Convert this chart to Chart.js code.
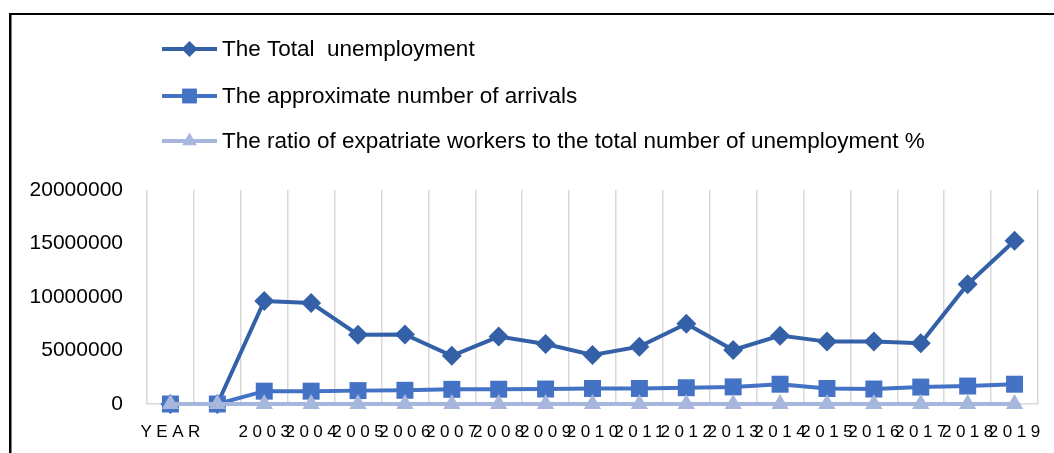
<!DOCTYPE html>
<html>
<head>
<meta charset="utf-8">
<script src="https://cdn.jsdelivr.net/npm/chart.js@4"></script>
<style>
  html, body { margin: 0; padding: 0; background: #ffffff; }
  #wrap { width: 1054px; height: 453px; position: relative; }
</style>
</head>
<body>
<div id="wrap"><canvas id="c" width="1054" height="453"></canvas></div>
<script>
// ---- data ----
const categories = ["YEAR", "", "2003", "2004", "2005", "2006", "2007", "2008", "2009", "2010",
  "2011", "2012", "2013", "2014", "2015", "2016", "2017", "2018", "2019"];
const totalUnemployment = [0, 0, 9630000, 9440000, 6480000, 6500000, 4500000, 6300000, 5600000, 4580000,
  5360000, 7500000, 5050000, 6390000, 5830000, 5830000, 5670000, 11200000, 15260000];
const arrivals = [0, 0, 1200000, 1200000, 1250000, 1280000, 1370000, 1380000, 1400000, 1450000,
  1450000, 1520000, 1600000, 1850000, 1450000, 1400000, 1580000, 1680000, 1850000];
const ratioPct = [0, 0, 12.5, 12.7, 19.3, 19.7, 30.4, 21.9, 25, 31.7,
  27, 20.3, 31.7, 28.9, 24.9, 24, 27.9, 15, 12.1];
const seriesLabels = [
  "The Total  unemployment",
  "The approximate number of arrivals",
  "The ratio of expatriate workers to the total number of unemployment %"
];
const yTickMax = 20000000;
const yTickStep = 5000000;

// ---- styles ----
const C_DARK = '#3360A6';
const C_MID = '#4472C4';
const C_LIGHT = '#A7B6DD';

const framePlugin = {
  id: 'frame',
  beforeDraw(chart) {
    const ctx = chart.ctx;
    ctx.save();
    ctx.fillStyle = '#000';
    ctx.fillRect(9, 13, 1045, 2);
    ctx.fillRect(9, 13, 2.5, 440);
    ctx.restore();
  }
};

// letter-spaced x-axis labels
const spacedXLabels = {
  id: 'spacedXLabels',
  afterLayout(chart) {
    const xs = chart.scales.x;
    if (xs._spacedPatched) return;
    const orig = xs.drawLabels.bind(xs);
    xs.drawLabels = function (area) {
      const ctx = chart.ctx;
      ctx.save();
      ctx.letterSpacing = '4.5px';
      ctx.translate(2.2, 0);
      orig(area);
      ctx.restore();
    };
    xs._spacedPatched = true;
  }
};

const legendPlugin = {
  id: 'customLegend',
  afterDraw(chart) {
    const ctx = chart.ctx;
    const ys = [49, 96, 141];
    const radii = [8, 10.5, 8.5];
    ctx.save();
    chart.data.datasets.forEach((ds, i) => {
      const y = ys[i];
      ctx.strokeStyle = ds.borderColor;
      ctx.lineWidth = 4;
      ctx.beginPath();
      ctx.moveTo(162, y);
      ctx.lineTo(217, y);
      ctx.stroke();
      ctx.fillStyle = ds.pointBackgroundColor;
      ctx.strokeStyle = ds.pointBackgroundColor;
      Chart.helpers.drawPoint(ctx, { pointStyle: ds.pointStyle, radius: radii[i], borderWidth: 0, rotation: 0 }, 189.5, y);
      ctx.fillStyle = '#000';
      ctx.font = '22.5px "Liberation Sans", Arial, sans-serif';
      ctx.textBaseline = 'middle';
      ctx.textAlign = 'left';
      ctx.fillText(ds.label, 222, y + 1);
    });
    ctx.restore();
  }
};

new Chart(document.getElementById('c'), {
  type: 'line',
  data: {
    labels: categories,
    datasets: [
      {
        label: seriesLabels[0], data: totalUnemployment, order: 3, clip: false,
        borderColor: C_DARK, backgroundColor: C_DARK,
        pointBackgroundColor: C_DARK, pointBorderColor: C_DARK,
        borderWidth: 4, pointStyle: 'rectRot', pointRadius: 10, pointBorderWidth: 0,
        tension: 0
      },
      {
        label: seriesLabels[1], data: arrivals, order: 2, clip: false,
        borderColor: C_MID, backgroundColor: C_MID,
        pointBackgroundColor: C_MID, pointBorderColor: C_MID,
        borderWidth: 4, pointStyle: 'rect', pointRadius: 12, pointBorderWidth: 0,
        tension: 0
      },
      {
        label: seriesLabels[2], data: ratioPct, order: 1, clip: false,
        borderColor: C_LIGHT, backgroundColor: C_LIGHT,
        pointBackgroundColor: C_LIGHT, pointBorderColor: C_LIGHT,
        borderWidth: 4, pointStyle: 'triangle', pointRadius: 10, pointBorderWidth: 0,
        tension: 0
      }
    ]
  },
  options: {
    responsive: false,
    animation: false,
    layout: { padding: { top: 190, right: 16, bottom: 0, left: 0 } },
    plugins: {
      legend: { display: false },
      tooltip: { enabled: false }
    },
    scales: {
      x: {
        offset: true,
        grid: { display: true, offset: true, color: '#d9d9d9', lineWidth: 1.5, drawTicks: false },
        border: { display: true, color: '#d9d9d9', width: 1.5 },
        ticks: {
          autoSkip: false, maxRotation: 0, minRotation: 0, padding: 18,
          color: '#000',
          font: { family: '"Liberation Sans", Arial, sans-serif', size: 17 }
        },
        afterFit(scale) { scale.height = 49; }
      },
      y: {
        min: 0, max: yTickMax,
        grid: { display: false, drawTicks: false },
        border: { display: false },
        ticks: {
          stepSize: yTickStep, padding: 24, color: '#000',
          font: { family: '"Liberation Sans", Arial, sans-serif', size: 21 },
          callback: function (v) { return String(v); }
        },
        afterFit(scale) { scale.width = 147; }
      }
    }
  },
  plugins: [framePlugin, spacedXLabels, legendPlugin]
});
</script>
</body>
</html>
